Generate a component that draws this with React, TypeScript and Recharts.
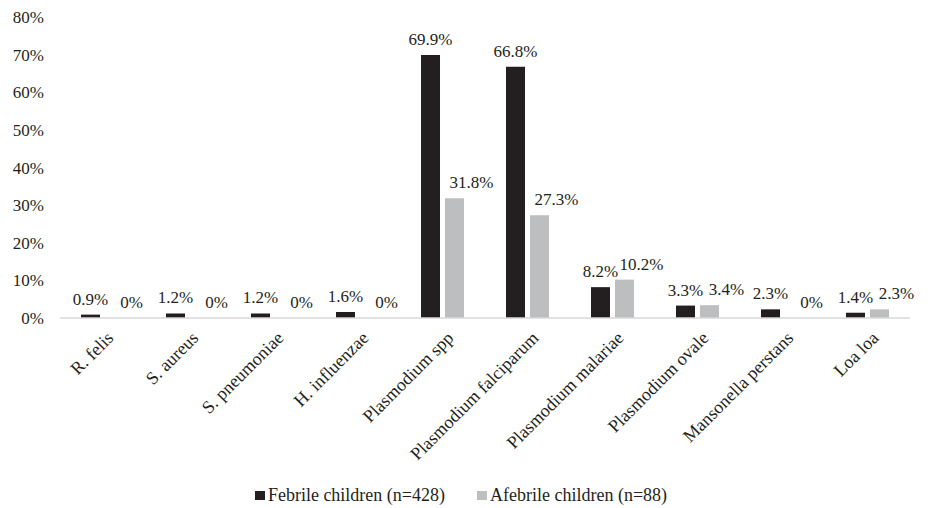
import React from "react";
import { BarChart, Bar, XAxis, YAxis, Legend, LabelList } from "recharts";

const categories = [
  "R. felis",
  "S. aureus",
  "S. pneumoniae",
  "H. influenzae",
  "Plasmodium spp",
  "Plasmodium falciparum",
  "Plasmodium malariae",
  "Plasmodium ovale",
  "Mansonella perstans",
  "Loa loa",
];
const febrile = [0.9, 1.2, 1.2, 1.6, 69.9, 66.8, 8.2, 3.3, 2.3, 1.4];
const afebrile = [0, 0, 0, 0, 31.8, 27.3, 10.2, 3.4, 0, 2.3];
const yTicks = [0, 10, 20, 30, 40, 50, 60, 70, 80];

const FEBRILE_COLOR = "#231f20";
const AFEBRILE_COLOR = "#bcbec0";
const SERIF = "'Liberation Serif', 'Times New Roman', serif";

const data = categories.map((name, i) => ({
  name,
  febrile: febrile[i],
  afebrile: afebrile[i],
}));

const pct = (v: number) => `${v}%`;

// rotated category labels, ending just right of the category centre
const CategoryTick = (props: any) => {
  const { x, y, payload } = props;
  return (
    <g transform={`translate(${x + 5},${y + 6})`}>
      <text
        transform="rotate(-45)"
        textAnchor="end"
        dy={10}
        fontFamily={SERIF}
        fontSize={18}
        fill="#231f20"
      >
        {payload.value}
      </text>
    </g>
  );
};

// gray series labels sit a little to the right, as in the original
const makeLabel = (dx: number) => (props: any) => {
  const { x, y, width, value } = props;
  return (
    <text
      x={x + width / 2 + dx}
      y={y - 10}
      textAnchor="middle"
      fontFamily={SERIF}
      fontSize={17}
      fill="#231f20"
    >
      {pct(value)}
    </text>
  );
};

const LegendContent = () => (
  <div
    style={{
      display: "flex",
      justifyContent: "center",
      alignItems: "center",
      height: 30,
      paddingTop: 4,
      boxSizing: "border-box",
      fontFamily: SERIF,
      fontSize: 18,
      color: "#231f20",
      paddingLeft: 12,
    }}
  >
    <span style={{ display: "inline-block", width: 10, height: 9, background: FEBRILE_COLOR, marginRight: 3 }} />
    <span style={{ marginRight: 32 }}>Febrile children (n=428)</span>
    <span style={{ display: "inline-block", width: 10, height: 9, background: AFEBRILE_COLOR, marginRight: 3 }} />
    <span>Afebrile children (n=88)</span>
  </div>
);

const App = () => {
  return (
    <div style={{ width: 930, height: 508, background: "#fff", fontFamily: SERIF }}>
      <style>{"body{margin:0;}"}</style>
      <BarChart
        width={930}
        height={508}
        data={data}
        margin={{ top: 17, right: 20, bottom: 0, left: 0 }}
        barSize={19}
        barGap={5}
      >
        <XAxis
          dataKey="name"
          interval={0}
          height={160}
          tickLine={false}
          axisLine={{ stroke: "#d9d9d9", strokeWidth: 1.5 }}
          tick={<CategoryTick />}
        />
        <YAxis
          width={60}
          domain={[0, 80]}
          ticks={yTicks}
          tickFormatter={pct}
          axisLine={false}
          tickLine={false}
          tickMargin={10}
          tick={{ fontFamily: SERIF, fontSize: 17, fill: "#231f20" }}
        />
        <Legend verticalAlign="bottom" height={30} content={<LegendContent />} />
        <Bar dataKey="febrile" fill={FEBRILE_COLOR} isAnimationActive={false}>
          <LabelList dataKey="febrile" content={makeLabel(0)} />
        </Bar>
        <Bar dataKey="afebrile" fill={AFEBRILE_COLOR} minPointSize={0.01} isAnimationActive={false}>
          <LabelList dataKey="afebrile" content={makeLabel(17)} />
        </Bar>
      </BarChart>
    </div>
  );
};

export default App;
